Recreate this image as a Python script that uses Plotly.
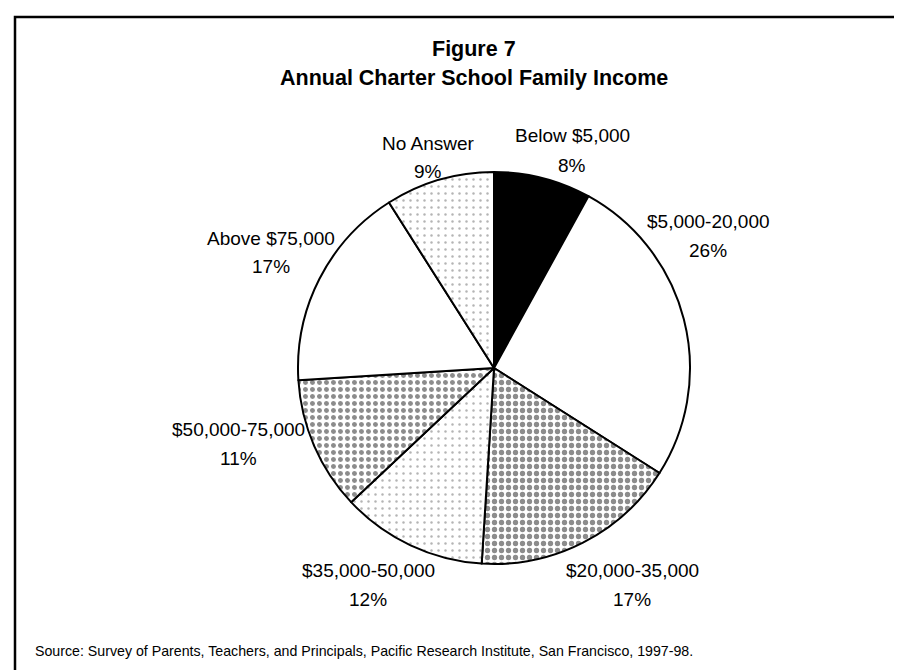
import plotly.graph_objects as go

W, H = 902, 670

categories = ["Below $5,000", "$5,000-20,000", "$20,000-35,000", "$35,000-50,000",
              "$50,000-75,000", "Above $75,000", "No Answer"]
percent_values = [8, 26, 17, 12, 11, 17, 9]
title_lines = ["Figure 7", "Annual Charter School Family Income"]
source_note = ("Source: Survey of Parents, Teachers, and Principals, Pacific Research Institute, "
               "San Francisco, 1997-98.")

# styling (not data)
slice_colors = ["#000000", "#ffffff", "#ffffff", "#ffffff", "#ffffff", "#ffffff", "#ffffff"]
pattern_shapes = ["", "", ".", ".", ".", "", "."]
pattern_fg = ["#8c8c8c", "#8c8c8c", "#8c8c8c", "#b4b4b4", "#8c8c8c", "#8c8c8c", "#b4b4b4"]
pattern_solidity = [0.1, 0.1, 0.45, 0.1, 0.4, 0.1, 0.1]
label_pos_px = {  # centre of the category line, in pixels
    "Below $5,000": (564, 128),
    "$5,000-20,000": (700, 213),
    "$20,000-35,000": (624, 562),
    "$35,000-50,000": (360, 562),
    "$50,000-75,000": (230, 421),
    "Above $75,000": (263, 230),
    "No Answer": (420, 135),
}
pct_offset_px = 29

FONT = "Liberation Sans, Arial, Helvetica, sans-serif"

def px(x):
    return x / W

def py(y):
    return 1 - y / H

cx, cy, r = 486, 360, 196

fig = go.Figure(go.Pie(
    labels=categories,
    values=percent_values,
    sort=False,
    direction="clockwise",
    rotation=0,
    textinfo="none",
    hoverinfo="label+percent",
    marker=dict(
        colors=slice_colors,
        line=dict(color="black", width=2),
        pattern=dict(shape=pattern_shapes, fgcolor=pattern_fg, size=7,
                     solidity=pattern_solidity, fillmode="replace"),
    ),
    domain=dict(x=[px(cx - r), px(cx + r)], y=[py(cy + r), py(cy - r)]),
    showlegend=False,
))

annotations = []
for name, val in zip(categories, percent_values):
    x, y = label_pos_px[name]
    annotations.append(dict(x=px(x), y=py(y), xref="paper", yref="paper", text=name,
                            showarrow=False, xanchor="center", yanchor="middle",
                            font=dict(family=FONT, size=19, color="black")))
    annotations.append(dict(x=px(x), y=py(y + pct_offset_px), xref="paper", yref="paper",
                            text=f"{val}%", showarrow=False, xanchor="center", yanchor="middle",
                            font=dict(family=FONT, size=19, color="black")))

annotations.append(dict(x=px(466), y=py(41), xref="paper", yref="paper",
                        text=f"<b>{title_lines[0]}</b>", showarrow=False,
                        xanchor="center", yanchor="middle",
                        font=dict(family=FONT, size=21.5, color="black")))
annotations.append(dict(x=px(466), y=py(70), xref="paper", yref="paper",
                        text=f"<b>{title_lines[1]}</b>", showarrow=False,
                        xanchor="center", yanchor="middle",
                        font=dict(family=FONT, size=21.5, color="black")))
annotations.append(dict(x=px(25), y=py(643), xref="paper", yref="paper",
                        text=source_note, showarrow=False,
                        xanchor="left", yanchor="middle",
                        font=dict(family=FONT, size=14.2, color="black")))

shapes = [dict(type="rect", xref="paper", yref="paper",
               x0=px(7), y0=py(9), x1=px(W + 10), y1=py(H + 10),
               line=dict(color="black", width=2.5), fillcolor="rgba(0,0,0,0)")]

fig.update_layout(
    width=W, height=H,
    margin=dict(l=0, r=0, t=0, b=0),
    paper_bgcolor="white", plot_bgcolor="white",
    annotations=annotations,
    shapes=shapes,
)

fig.write_html("out.html")
